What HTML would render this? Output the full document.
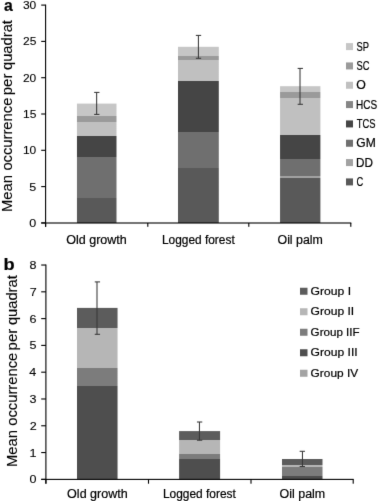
<!DOCTYPE html>
<html><head><meta charset="utf-8"><style>
html,body{margin:0;padding:0;background:#fff;}
body{width:378px;height:501px;overflow:hidden;}
svg{display:block;font-family:"Liberation Sans", sans-serif;filter:grayscale(1);}
text{fill:#000;stroke:#000;stroke-width:0.2px;}
text.n{stroke-width:0.1px;}
text.y{stroke-width:0.12px;}
</style></head><body>
<svg width="378" height="501" viewBox="0 0 378 501">
<defs><linearGradient id="g1" gradientUnits="userSpaceOnUse" x1="0" y1="223.0" x2="0" y2="103.6"><stop offset="0.00000" stop-color="#595959"/><stop offset="0.21106" stop-color="#595959"/><stop offset="0.21106" stop-color="#6f6f6f"/><stop offset="0.55276" stop-color="#6f6f6f"/><stop offset="0.55276" stop-color="#454545"/><stop offset="0.72948" stop-color="#454545"/><stop offset="0.72948" stop-color="#c0c0c0"/><stop offset="0.84171" stop-color="#c0c0c0"/><stop offset="0.84171" stop-color="#9a9a9a"/><stop offset="0.89615" stop-color="#9a9a9a"/><stop offset="0.89615" stop-color="#c6c6c6"/><stop offset="1.00000" stop-color="#c6c6c6"/></linearGradient><linearGradient id="g2" gradientUnits="userSpaceOnUse" x1="0" y1="223.0" x2="0" y2="46.8"><stop offset="0.00000" stop-color="#595959"/><stop offset="0.31442" stop-color="#595959"/><stop offset="0.31442" stop-color="#6f6f6f"/><stop offset="0.51703" stop-color="#6f6f6f"/><stop offset="0.51703" stop-color="#454545"/><stop offset="0.80590" stop-color="#454545"/><stop offset="0.80590" stop-color="#c0c0c0"/><stop offset="0.92225" stop-color="#c0c0c0"/><stop offset="0.92225" stop-color="#9a9a9a"/><stop offset="0.94835" stop-color="#9a9a9a"/><stop offset="0.94835" stop-color="#c6c6c6"/><stop offset="1.00000" stop-color="#c6c6c6"/></linearGradient><linearGradient id="g3" gradientUnits="userSpaceOnUse" x1="0" y1="223.0" x2="0" y2="86.2"><stop offset="0.00000" stop-color="#595959"/><stop offset="0.32968" stop-color="#595959"/><stop offset="0.32968" stop-color="#a2a2a2"/><stop offset="0.34649" stop-color="#a2a2a2"/><stop offset="0.34649" stop-color="#6f6f6f"/><stop offset="0.47076" stop-color="#6f6f6f"/><stop offset="0.47076" stop-color="#454545"/><stop offset="0.64474" stop-color="#454545"/><stop offset="0.64474" stop-color="#c0c0c0"/><stop offset="0.91520" stop-color="#c0c0c0"/><stop offset="0.91520" stop-color="#9a9a9a"/><stop offset="0.95614" stop-color="#9a9a9a"/><stop offset="0.95614" stop-color="#c6c6c6"/><stop offset="1.00000" stop-color="#c6c6c6"/></linearGradient><linearGradient id="g4" gradientUnits="userSpaceOnUse" x1="0" y1="479.4" x2="0" y2="307.9"><stop offset="0.00000" stop-color="#4e4e4e"/><stop offset="0.54752" stop-color="#4e4e4e"/><stop offset="0.54752" stop-color="#7c7c7c"/><stop offset="0.65190" stop-color="#7c7c7c"/><stop offset="0.65190" stop-color="#b6b6b6"/><stop offset="0.88455" stop-color="#b6b6b6"/><stop offset="0.88455" stop-color="#5c5c5c"/><stop offset="1.00000" stop-color="#5c5c5c"/></linearGradient><linearGradient id="g5" gradientUnits="userSpaceOnUse" x1="0" y1="479.4" x2="0" y2="431.1"><stop offset="0.00000" stop-color="#4e4e4e"/><stop offset="0.41201" stop-color="#4e4e4e"/><stop offset="0.41201" stop-color="#7c7c7c"/><stop offset="0.52588" stop-color="#7c7c7c"/><stop offset="0.52588" stop-color="#b6b6b6"/><stop offset="0.82195" stop-color="#b6b6b6"/><stop offset="0.82195" stop-color="#5c5c5c"/><stop offset="1.00000" stop-color="#5c5c5c"/></linearGradient><linearGradient id="g6" gradientUnits="userSpaceOnUse" x1="0" y1="479.4" x2="0" y2="459.0"><stop offset="0.00000" stop-color="#4e4e4e"/><stop offset="0.17647" stop-color="#4e4e4e"/><stop offset="0.17647" stop-color="#7c7c7c"/><stop offset="0.61275" stop-color="#7c7c7c"/><stop offset="0.61275" stop-color="#b6b6b6"/><stop offset="0.72549" stop-color="#b6b6b6"/><stop offset="0.72549" stop-color="#5c5c5c"/><stop offset="1.00000" stop-color="#5c5c5c"/></linearGradient><filter id="soft" x="0" y="0" width="378" height="501" filterUnits="userSpaceOnUse" color-interpolation-filters="sRGB"><feConvolveMatrix order="3" kernelMatrix="0.0064 0.0672 0.0064 0.0672 0.7056 0.0672 0.0064 0.0672 0.0064" edgeMode="duplicate" preserveAlpha="true"/></filter></defs>
<g filter="url(#soft)">
<rect x="0" y="0" width="378" height="501" fill="#fff"/>
<rect x="76.95" y="103.60" width="39.55" height="119.40" fill="url(#g1)"/>
<rect x="178.00" y="46.80" width="40.80" height="176.20" fill="url(#g2)"/>
<rect x="280.05" y="86.20" width="40.35" height="136.80" fill="url(#g3)"/>
<rect x="96.12" y="92.40" width="1.05" height="22.00" fill="#383838"/>
<rect x="94.15" y="91.88" width="5.30" height="1.05" fill="#383838"/>
<rect x="94.15" y="113.88" width="5.30" height="1.05" fill="#383838"/>
<rect x="197.88" y="35.40" width="1.05" height="22.90" fill="#383838"/>
<rect x="195.85" y="34.88" width="5.30" height="1.05" fill="#383838"/>
<rect x="195.85" y="57.77" width="5.30" height="1.05" fill="#383838"/>
<rect x="299.48" y="68.40" width="1.05" height="35.90" fill="#383838"/>
<rect x="297.65" y="67.88" width="5.30" height="1.05" fill="#383838"/>
<rect x="297.65" y="103.77" width="5.30" height="1.05" fill="#383838"/>
<rect x="45.05" y="4.60" width="1.10" height="222.20" fill="#000000"/>
<rect x="41.20" y="222.35" width="4.40" height="1.10" fill="#000000"/>
<text class="n" x="29.31" y="226.90" font-size="11.2" textLength="6.98" lengthAdjust="spacingAndGlyphs">0</text>
<rect x="41.20" y="186.05" width="4.40" height="1.10" fill="#000000"/>
<text class="n" x="29.34" y="190.60" font-size="11.2" textLength="6.98" lengthAdjust="spacingAndGlyphs">5</text>
<rect x="41.20" y="149.75" width="4.40" height="1.10" fill="#000000"/>
<text class="n" x="22.95" y="154.30" font-size="11.2" textLength="13.33" lengthAdjust="spacingAndGlyphs">10</text>
<rect x="41.20" y="113.45" width="4.40" height="1.10" fill="#000000"/>
<text class="n" x="22.98" y="118.00" font-size="11.2" textLength="13.33" lengthAdjust="spacingAndGlyphs">15</text>
<rect x="41.20" y="77.15" width="4.40" height="1.10" fill="#000000"/>
<text class="n" x="22.95" y="81.70" font-size="11.2" textLength="13.33" lengthAdjust="spacingAndGlyphs">20</text>
<rect x="41.20" y="40.85" width="4.40" height="1.10" fill="#000000"/>
<text class="n" x="22.98" y="45.40" font-size="11.2" textLength="13.33" lengthAdjust="spacingAndGlyphs">25</text>
<rect x="41.20" y="4.55" width="4.40" height="1.10" fill="#000000"/>
<text class="n" x="22.95" y="9.10" font-size="11.2" textLength="13.33" lengthAdjust="spacingAndGlyphs">30</text>
<rect x="41.20" y="222.45" width="310.10" height="1.10" fill="#000000"/>
<rect x="45.05" y="223.00" width="1.10" height="3.80" fill="#000000"/>
<rect x="147.25" y="223.00" width="1.10" height="3.80" fill="#000000"/>
<rect x="248.25" y="223.00" width="1.10" height="3.80" fill="#000000"/>
<rect x="350.25" y="223.00" width="1.10" height="3.80" fill="#000000"/>
<text x="66.20" y="243.60" font-size="12" textLength="60.62" lengthAdjust="spacingAndGlyphs">Old growth</text>
<text x="161.92" y="243.60" font-size="12" textLength="72.78" lengthAdjust="spacingAndGlyphs">Logged forest</text>
<text x="277.51" y="243.60" font-size="12" textLength="45.39" lengthAdjust="spacingAndGlyphs">Oil palm</text>
<text class="y" x="-212.02" y="12.10" font-size="14" textLength="37.00" lengthAdjust="spacingAndGlyphs" transform="rotate(-90)">Mean</text>
<text class="y" x="-170.63" y="12.10" font-size="14" textLength="72.98" lengthAdjust="spacingAndGlyphs" transform="rotate(-90)">occurrence</text>
<text class="y" x="-95.38" y="12.10" font-size="14" textLength="21.81" lengthAdjust="spacingAndGlyphs" transform="rotate(-90)">per</text>
<text class="y" x="-70.03" y="12.10" font-size="14" textLength="49.92" lengthAdjust="spacingAndGlyphs" transform="rotate(-90)">quadrat</text>
<text x="3.93" y="10.50" font-size="16.5" font-weight="bold" textLength="8.77" lengthAdjust="spacingAndGlyphs">a</text>
<rect x="346.00" y="43.10" width="7.00" height="7.00" fill="#c6c6c6"/>
<text x="356.48" y="50.60" font-size="12" textLength="12.50" lengthAdjust="spacingAndGlyphs">SP</text>
<rect x="346.00" y="62.43" width="7.00" height="7.00" fill="#9a9a9a"/>
<text x="356.48" y="69.93" font-size="12" textLength="12.99" lengthAdjust="spacingAndGlyphs">SC</text>
<rect x="346.00" y="81.76" width="7.00" height="7.00" fill="#c0c0c0"/>
<text x="356.32" y="89.26" font-size="12" textLength="9.57" lengthAdjust="spacingAndGlyphs">O</text>
<rect x="346.00" y="101.09" width="7.00" height="7.00" fill="#858585"/>
<text x="356.07" y="108.59" font-size="12" textLength="21.19" lengthAdjust="spacingAndGlyphs">HCS</text>
<rect x="346.00" y="120.42" width="7.00" height="7.00" fill="#454545"/>
<text x="356.69" y="127.92" font-size="12" textLength="18.76" lengthAdjust="spacingAndGlyphs">TCS</text>
<rect x="346.00" y="139.75" width="7.00" height="7.00" fill="#6f6f6f"/>
<text x="356.30" y="147.25" font-size="12" textLength="19.41" lengthAdjust="spacingAndGlyphs">GM</text>
<rect x="346.00" y="159.08" width="7.00" height="7.00" fill="#a2a2a2"/>
<text x="355.93" y="166.58" font-size="12" textLength="16.92" lengthAdjust="spacingAndGlyphs">DD</text>
<rect x="346.00" y="178.41" width="7.00" height="7.00" fill="#595959"/>
<text x="356.43" y="185.91" font-size="12" textLength="6.74" lengthAdjust="spacingAndGlyphs">C</text>
<rect x="77.00" y="307.90" width="40.55" height="171.50" fill="url(#g4)"/>
<rect x="179.10" y="431.10" width="41.00" height="48.30" fill="url(#g5)"/>
<rect x="282.00" y="459.00" width="40.50" height="20.40" fill="url(#g6)"/>
<rect x="96.47" y="281.90" width="1.05" height="52.40" fill="#383838"/>
<rect x="94.75" y="281.38" width="5.30" height="1.05" fill="#383838"/>
<rect x="94.75" y="333.78" width="5.30" height="1.05" fill="#383838"/>
<rect x="198.92" y="422.00" width="1.05" height="18.20" fill="#383838"/>
<rect x="196.95" y="421.48" width="5.30" height="1.05" fill="#383838"/>
<rect x="196.95" y="439.68" width="5.30" height="1.05" fill="#383838"/>
<rect x="301.93" y="451.30" width="1.05" height="15.20" fill="#383838"/>
<rect x="299.65" y="450.78" width="5.30" height="1.05" fill="#383838"/>
<rect x="299.65" y="465.98" width="5.30" height="1.05" fill="#383838"/>
<rect x="45.35" y="264.50" width="1.10" height="219.20" fill="#000000"/>
<rect x="41.20" y="478.80" width="4.70" height="1.10" fill="#000000"/>
<text class="n" x="29.51" y="483.35" font-size="11.2" textLength="6.98" lengthAdjust="spacingAndGlyphs">0</text>
<rect x="41.20" y="452.01" width="4.70" height="1.10" fill="#000000"/>
<text class="n" x="29.63" y="456.56" font-size="11.2" textLength="6.98" lengthAdjust="spacingAndGlyphs">1</text>
<rect x="41.20" y="425.22" width="4.70" height="1.10" fill="#000000"/>
<text class="n" x="29.67" y="429.77" font-size="11.2" textLength="6.98" lengthAdjust="spacingAndGlyphs">2</text>
<rect x="41.20" y="398.43" width="4.70" height="1.10" fill="#000000"/>
<text class="n" x="29.57" y="402.98" font-size="11.2" textLength="6.98" lengthAdjust="spacingAndGlyphs">3</text>
<rect x="41.20" y="371.64" width="4.70" height="1.10" fill="#000000"/>
<text class="n" x="29.38" y="376.19" font-size="11.2" textLength="6.98" lengthAdjust="spacingAndGlyphs">4</text>
<rect x="41.20" y="344.85" width="4.70" height="1.10" fill="#000000"/>
<text class="n" x="29.54" y="349.40" font-size="11.2" textLength="6.98" lengthAdjust="spacingAndGlyphs">5</text>
<rect x="41.20" y="318.06" width="4.70" height="1.10" fill="#000000"/>
<text class="n" x="29.57" y="322.61" font-size="11.2" textLength="6.98" lengthAdjust="spacingAndGlyphs">6</text>
<rect x="41.20" y="291.27" width="4.70" height="1.10" fill="#000000"/>
<text class="n" x="29.67" y="295.82" font-size="11.2" textLength="6.98" lengthAdjust="spacingAndGlyphs">7</text>
<rect x="41.20" y="264.48" width="4.70" height="1.10" fill="#000000"/>
<text class="n" x="29.57" y="269.03" font-size="11.2" textLength="6.98" lengthAdjust="spacingAndGlyphs">8</text>
<rect x="41.20" y="478.85" width="312.50" height="1.10" fill="#000000"/>
<rect x="45.35" y="479.40" width="1.10" height="4.30" fill="#000000"/>
<rect x="147.95" y="479.40" width="1.10" height="4.30" fill="#000000"/>
<rect x="250.45" y="479.40" width="1.10" height="4.30" fill="#000000"/>
<rect x="352.65" y="479.40" width="1.10" height="4.30" fill="#000000"/>
<text x="67.10" y="498.20" font-size="12" textLength="60.62" lengthAdjust="spacingAndGlyphs">Old growth</text>
<text x="162.92" y="498.20" font-size="12" textLength="72.99" lengthAdjust="spacingAndGlyphs">Logged forest</text>
<text x="279.61" y="498.20" font-size="12" textLength="45.60" lengthAdjust="spacingAndGlyphs">Oil palm</text>
<text class="y" x="-467.12" y="17.10" font-size="14" textLength="37.00" lengthAdjust="spacingAndGlyphs" transform="rotate(-90)">Mean</text>
<text class="y" x="-425.73" y="17.10" font-size="14" textLength="72.98" lengthAdjust="spacingAndGlyphs" transform="rotate(-90)">occurrence</text>
<text class="y" x="-350.48" y="17.10" font-size="14" textLength="21.81" lengthAdjust="spacingAndGlyphs" transform="rotate(-90)">per</text>
<text class="y" x="-325.13" y="17.10" font-size="14" textLength="49.92" lengthAdjust="spacingAndGlyphs" transform="rotate(-90)">quadrat</text>
<text x="3.62" y="270.10" font-size="16.5" font-weight="bold" textLength="11.13" lengthAdjust="spacingAndGlyphs">b</text>
<rect x="300.00" y="287.75" width="7.50" height="7.00" fill="#5c5c5c"/>
<text x="310.59" y="294.80" font-size="11.2" textLength="40.53" lengthAdjust="spacingAndGlyphs">Group I</text>
<rect x="300.00" y="308.25" width="7.50" height="7.00" fill="#b6b6b6"/>
<text x="310.60" y="315.35" font-size="11.2" textLength="43.63" lengthAdjust="spacingAndGlyphs">Group II</text>
<rect x="300.00" y="328.75" width="7.50" height="7.00" fill="#7c7c7c"/>
<text x="310.62" y="335.90" font-size="11.2" textLength="49.06" lengthAdjust="spacingAndGlyphs">Group IIF</text>
<rect x="300.00" y="349.25" width="7.50" height="7.00" fill="#4e4e4e"/>
<text x="310.60" y="356.45" font-size="11.2" textLength="47.03" lengthAdjust="spacingAndGlyphs">Group III</text>
<rect x="300.00" y="369.75" width="7.50" height="7.00" fill="#a3a3a3"/>
<text x="310.61" y="377.00" font-size="11.2" textLength="47.55" lengthAdjust="spacingAndGlyphs">Group IV</text>
</g>
</svg>
</body></html>
